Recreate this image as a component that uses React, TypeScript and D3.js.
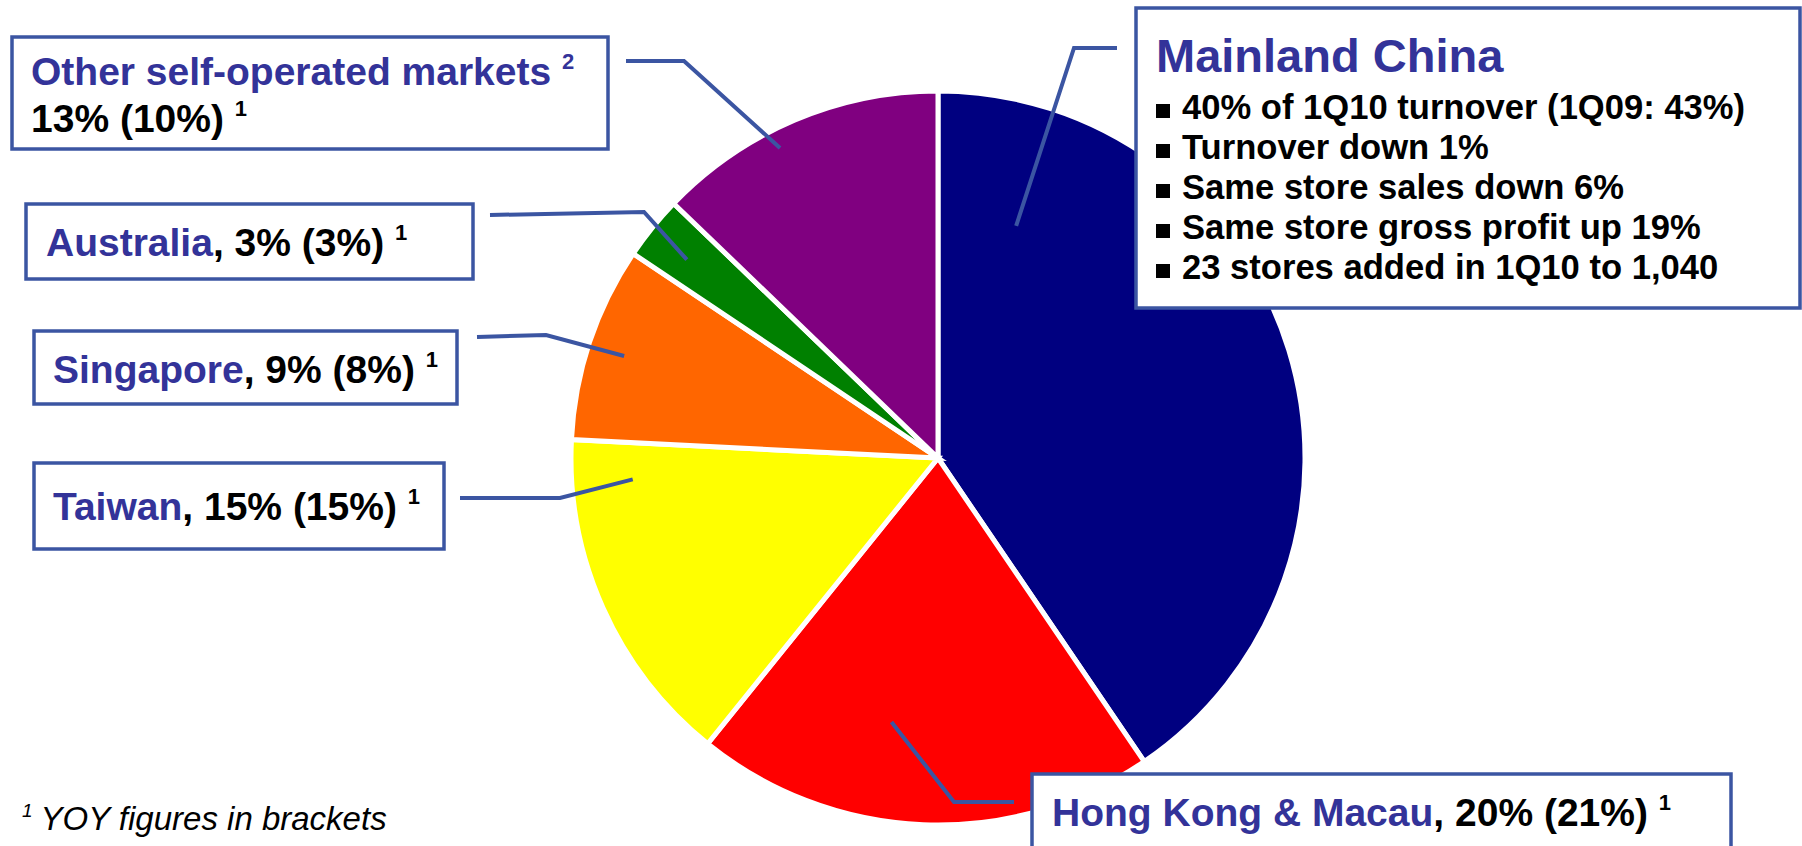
import React from 'react';
import * as d3 from 'd3';

// ---- data ----
const regions = [
  'Mainland China',
  'Hong Kong & Macau',
  'Taiwan',
  'Singapore',
  'Australia',
  'Other self-operated markets',
];
const shares = [40.5, 20.3, 15.0, 8.6, 2.8, 12.8];
const shareLabels = ['40%', '20%', '15%', '9%', '3%', '13%'];
const yoyLabels = ['21%', '15%', '8%', '3%', '10%'];
const sliceColors = ['#000080', '#FF0000', '#FFFF00', '#FF6600', '#008000', '#800080'];
const chinaBullets = [
  '40% of 1Q10 turnover (1Q09: 43%)',
  'Turnover down 1%',
  'Same store sales down 6%',
  'Same store gross profit up 19%',
  '23 stores added in 1Q10 to 1,040',
];
const footnote = 'YOY figures in brackets';

// ---- layout ----
const W = 1802;
const H = 846;
const cx = 938;
const cy = 458;
const R = 367;
const BLUE_TXT = '#333399';
const BOX = '#3B55A2';
const FONT = "'Liberation Sans', Arial, Helvetica, sans-serif";
const LABEL_FS = 39;

export default function App() {
  const pie = d3.pie<number>().sort(null).value((d) => d)(shares);
  const arc = d3.arc<d3.PieArcDatum<number>>().innerRadius(0).outerRadius(R);
  const polar = (deg: number, r: number): [number, number] => [
    cx + r * Math.sin((deg * Math.PI) / 180),
    cy - r * Math.cos((deg * Math.PI) / 180),
  ];
  const line = d3.line();

  // leader lines: start (at box), elbow, then anchor inside slice (angle deg, radius)
  const leaders: { pts: [number, number][]; anchor: [number, number] }[] = [
    { pts: [[1117, 48], [1074, 48]], anchor: [18.6, 245] },
    { pts: [[1014, 802], [954, 802]], anchor: [190, 268] },
    { pts: [[460, 498], [560, 498]], anchor: [266, 306] },
    { pts: [[477, 337], [546, 335]], anchor: [288, 330] },
    { pts: [[490, 215], [644, 212]], anchor: [308.3, 320] },
    { pts: [[626, 61], [684, 61]], anchor: [333, 348] },
  ];

  const sup = (t: string, fill: string) => (
    <tspan fill={fill} fontSize={22} dy={-16}>
      {t}
    </tspan>
  );

  return (
    <svg
      width={W}
      height={H}
      style={{ position: 'absolute', left: 0, top: 0, background: '#fff' }}
      fontFamily={FONT}
    >
      <rect x={0} y={0} width={W} height={H} fill="#fff" />
      <g transform={`translate(${cx},${cy})`}>
        {pie.map((p, i) => (
          <path key={i} d={arc(p) || ''} fill={sliceColors[i]} stroke="#fff" strokeWidth={5} strokeLinejoin="miter" />
        ))}
      </g>

      {leaders.map((l, i) => (
        <path
          key={i}
          d={line([...l.pts, polar(l.anchor[0], l.anchor[1])]) || ''}
          fill="none"
          stroke={BOX}
          strokeWidth={4}
        />
      ))}

      {/* Other self-operated markets */}
      <rect x={12} y={37} width={596} height={112} fill="#fff" stroke={BOX} strokeWidth={3.5} />
      <text x={31} y={85} fontSize={LABEL_FS} fontWeight="bold" fill={BLUE_TXT}>
        {regions[5] + ' '}
        {sup('2', BLUE_TXT)}
      </text>
      <text x={31} y={132} fontSize={LABEL_FS} fontWeight="bold" fill="#000">
        {`${shareLabels[5]} (${yoyLabels[4]}) `}
        {sup('1', '#000')}
      </text>

      {/* Australia */}
      <rect x={26} y={204} width={447} height={75} fill="#fff" stroke={BOX} strokeWidth={3.5} />
      <text x={46} y={256} fontSize={LABEL_FS} fontWeight="bold" fill="#000">
        <tspan fill={BLUE_TXT}>{regions[4]}</tspan>
        {`, ${shareLabels[4]} (${yoyLabels[3]}) `}
        {sup('1', '#000')}
      </text>

      {/* Singapore */}
      <rect x={34} y={331} width={423} height={73} fill="#fff" stroke={BOX} strokeWidth={3.5} />
      <text x={53} y={383} fontSize={LABEL_FS} fontWeight="bold" fill="#000">
        <tspan fill={BLUE_TXT}>{regions[3]}</tspan>
        {`, ${shareLabels[3]} (${yoyLabels[2]}) `}
        {sup('1', '#000')}
      </text>

      {/* Taiwan */}
      <rect x={34} y={463} width={410} height={86} fill="#fff" stroke={BOX} strokeWidth={3.5} />
      <text x={53} y={520} fontSize={LABEL_FS} fontWeight="bold" fill="#000">
        <tspan fill={BLUE_TXT}>{regions[2]}</tspan>
        {`, ${shareLabels[2]} (${yoyLabels[1]}) `}
        {sup('1', '#000')}
      </text>

      {/* Mainland China */}
      <rect x={1136} y={8} width={664} height={300} fill="#fff" stroke={BOX} strokeWidth={3.5} />
      <text x={1156} y={72} fontSize={47} fontWeight="bold" fill={BLUE_TXT}>
        {regions[0]}
      </text>
      {chinaBullets.map((b, i) => (
        <g key={i}>
          <rect x={1156} y={119 + i * 40 - 15} width={14} height={14} fill="#000" />
          <text x={1182} y={119 + i * 40} fontSize={34.6} fontWeight="bold" fill="#000">
            {b}
          </text>
        </g>
      ))}

      {/* Hong Kong & Macau */}
      <rect x={1032} y={774} width={699} height={100} fill="#fff" stroke={BOX} strokeWidth={3.5} />
      <text x={1052} y={826} fontSize={LABEL_FS} fontWeight="bold" fill="#000">
        <tspan fill={BLUE_TXT}>{regions[1]}</tspan>
        {`, ${shareLabels[1]} (${yoyLabels[0]}) `}
        {sup('1', '#000')}
      </text>

      {/* footnote */}
      <text x={22} y={830} fontSize={33} fontStyle="italic" fill="#000">
        <tspan fontSize={19} dy={-13}>1</tspan>
        <tspan dx={8} dy={13}>{footnote}</tspan>
      </text>
    </svg>
  );
}
